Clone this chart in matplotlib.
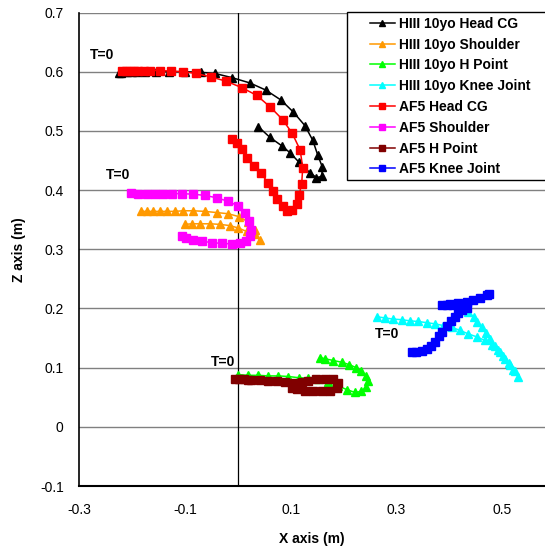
import matplotlib
matplotlib.use("Agg")
import matplotlib.pyplot as plt
from matplotlib.patches import Rectangle

plt.rcParams["font.family"] = ["Liberation Sans", "DejaVu Sans"]

# ---------- DATA ----------
hiii_head_x = [-0.225, -0.22, -0.215, -0.21, -0.20, -0.19, -0.175, -0.155, -0.13, -0.10, -0.07,
               -0.043, -0.011, 0.023, 0.053, 0.082, 0.105, 0.127, 0.142, 0.151, 0.160, 0.159,
               0.149, 0.137, 0.116, 0.099, 0.083, 0.061, 0.039]
hiii_head_z = [0.598, 0.598, 0.599, 0.599, 0.599, 0.600, 0.600, 0.600, 0.600, 0.600, 0.599,
               0.597, 0.590, 0.581, 0.569, 0.552, 0.532, 0.509, 0.484, 0.460, 0.439, 0.423,
               0.421, 0.429, 0.447, 0.463, 0.475, 0.489, 0.507]

hiii_shoulder_x = [-0.182, -0.172, -0.160, -0.147, -0.133, -0.119, -0.103, -0.084, -0.062, -0.040,
                   -0.018, 0.003, 0.020, 0.033, 0.042, 0.030, 0.017, 0.001, -0.015, -0.033,
                   -0.052, -0.071, -0.087, -0.100]
hiii_shoulder_z = [0.364, 0.364, 0.364, 0.364, 0.364, 0.364, 0.365, 0.365, 0.364, 0.362,
                   0.360, 0.355, 0.346, 0.333, 0.316, 0.325, 0.330, 0.336, 0.340, 0.342,
                   0.343, 0.343, 0.343, 0.342]

hiii_hpoint_x = [0.001, 0.020, 0.039, 0.058, 0.077, 0.096, 0.115, 0.133, 0.152, 0.171, 0.190,
                 0.206, 0.222, 0.234, 0.243, 0.246, 0.243, 0.234, 0.224, 0.211, 0.197, 0.181,
                 0.165, 0.156]
hiii_hpoint_z = [0.088, 0.087, 0.087, 0.086, 0.086, 0.085, 0.083, 0.082, 0.080, 0.076, 0.069,
                 0.063, 0.058, 0.060, 0.067, 0.077, 0.086, 0.094, 0.100, 0.105, 0.109, 0.112,
                 0.115, 0.117]

hiii_knee_x = [0.263, 0.278, 0.294, 0.310, 0.326, 0.341, 0.357, 0.373, 0.389, 0.405, 0.420,
               0.436, 0.452, 0.467, 0.480, 0.493, 0.502, 0.512, 0.521, 0.530, 0.524, 0.515,
               0.505, 0.496, 0.486, 0.477, 0.469, 0.461, 0.453, 0.446, 0.436]
hiii_knee_z = [0.186, 0.184, 0.182, 0.181, 0.179, 0.178, 0.176, 0.174, 0.171, 0.168, 0.163,
               0.157, 0.152, 0.146, 0.138, 0.129, 0.119, 0.108, 0.096, 0.085, 0.094, 0.105,
               0.115, 0.126, 0.137, 0.148, 0.159, 0.168, 0.177, 0.186, 0.194]

af5_head_x = [-0.218, -0.211, -0.204, -0.196, -0.188, -0.177, -0.166, -0.147, -0.127, -0.103,
              -0.079, -0.050, -0.022, 0.008, 0.036, 0.062, 0.085, 0.103, 0.118, 0.123, 0.121,
              0.116, 0.112, 0.102, 0.094, 0.085, 0.075, 0.066, 0.058, 0.044, 0.030, 0.017,
              0.008, -0.002, -0.010]
af5_head_z = [0.601, 0.601, 0.601, 0.601, 0.601, 0.602, 0.602, 0.602, 0.601, 0.600,
              0.597, 0.591, 0.584, 0.573, 0.560, 0.540, 0.519, 0.496, 0.468, 0.438, 0.411,
              0.391, 0.376, 0.366, 0.364, 0.373, 0.385, 0.398, 0.412, 0.428, 0.440, 0.455,
              0.469, 0.479, 0.487]

af5_shoulder_x = [-0.201, -0.188, -0.172, -0.156, -0.141, -0.125, -0.106, -0.084, -0.062, -0.040,
                  -0.018, 0.001, 0.014, 0.022, 0.025, 0.023, 0.016, 0.004, -0.011, -0.030,
                  -0.049, -0.068, -0.084, -0.098, -0.106]
af5_shoulder_z = [0.395, 0.394, 0.394, 0.394, 0.394, 0.394, 0.394, 0.393, 0.391, 0.387,
                  0.381, 0.373, 0.362, 0.347, 0.333, 0.322, 0.314, 0.310, 0.309, 0.310,
                  0.311, 0.314, 0.316, 0.319, 0.322]

af5_hpoint_x = [-0.005, 0.003, 0.011, 0.019, 0.026, 0.042, 0.058, 0.074, 0.089, 0.105, 0.121,
                0.133, 0.149, 0.165, 0.180, 0.189, 0.187, 0.174, 0.159, 0.143, 0.127, 0.112,
                0.102]
af5_hpoint_z = [0.080, 0.080, 0.080, 0.079, 0.079, 0.079, 0.078, 0.077, 0.076, 0.074, 0.075,
                0.077, 0.080, 0.081, 0.080, 0.074, 0.065, 0.061, 0.060, 0.060, 0.061, 0.064,
                0.066]

af5_knee_x = [0.329, 0.338, 0.348, 0.357, 0.365, 0.373, 0.381, 0.387, 0.395, 0.403, 0.410,
              0.417, 0.425, 0.433, 0.420, 0.408, 0.395, 0.387, 0.401, 0.417, 0.433, 0.445,
              0.458, 0.471, 0.476]
af5_knee_z = [0.126, 0.126, 0.128, 0.131, 0.137, 0.144, 0.153, 0.161, 0.170, 0.178, 0.186,
              0.192, 0.198, 0.201, 0.204, 0.205, 0.205, 0.206, 0.208, 0.209, 0.211, 0.215,
              0.218, 0.222, 0.224]

series = [
    ("HIII 10yo Head CG", hiii_head_x, hiii_head_z, "black", "^"),
    ("HIII 10yo Shoulder", hiii_shoulder_x, hiii_shoulder_z, "#ff9900", "^"),
    ("HIII 10yo H Point", hiii_hpoint_x, hiii_hpoint_z, "#00ff00", "^"),
    ("HIII 10yo Knee Joint", hiii_knee_x, hiii_knee_z, "#00ffff", "^"),
    ("AF5 Head CG", af5_head_x, af5_head_z, "#ff0000", "s"),
    ("AF5 Shoulder", af5_shoulder_x, af5_shoulder_z, "#ff00ff", "s"),
    ("AF5 H Point", af5_hpoint_x, af5_hpoint_z, "#800000", "s"),
    ("AF5 Knee Joint", af5_knee_x, af5_knee_z, "#0000ff", "s"),
]

t0_labels = [(-0.257, 0.628), (-0.226, 0.426), (-0.028, 0.110), (0.282, 0.156)]

x_ticks = [-0.3, -0.1, 0.1, 0.3, 0.5]
z_ticks = [-0.1, 0, 0.1, 0.2, 0.3, 0.4, 0.5, 0.6, 0.7]

# ---------- PLOT ----------
fig = plt.figure(figsize=(5.45, 5.5), dpi=100)
ax = fig.add_axes([79 / 545, 1 - 486 / 550, 1 - 79 / 545, (486 - 12.5) / 550])

for zv in z_ticks[1:]:
    ax.axhline(zv, color="#808080", lw=1.0, zorder=1)
ax.axvline(0, color="black", lw=0.9, zorder=1)

for label, xs, zs, col, mk in series:
    ax.plot(xs, zs, color=col, marker=mk, markersize=6 if mk == "^" else 5.5,
            lw=1.1, label=label, zorder=3)

for tx, tz in t0_labels:
    ax.text(tx, tz, "T=0", fontsize=10, fontweight="bold", ha="center", va="center", zorder=4)

ax.set_xlim(-0.3, 0.581)
ax.set_ylim(-0.1, 0.7)
ax.set_xticks(x_ticks)
ax.set_xticklabels(["-0.3", "-0.1", "0.1", "0.3", "0.5"])
ax.set_yticks(z_ticks)
ax.set_yticklabels(["-0.1", "0", "0.1", "0.2", "0.3", "0.4", "0.5", "0.6", "0.7"])
ax.tick_params(length=0, labelsize=10, pad=12)
ax.tick_params(axis="y", pad=11)

for side in ["top", "right"]:
    ax.spines[side].set_visible(False)
ax.spines["left"].set_linewidth(1.2)
ax.spines["bottom"].set_linewidth(1.5)

ax.set_xlabel("X axis (m)", fontsize=10, fontweight="bold", labelpad=11)
ax.set_ylabel("Z axis (m)", fontsize=10, fontweight="bold", labelpad=10)

# legend box drawn by hand so its padding matches the original
ax.add_patch(Rectangle((347 / 545, 1 - 180 / 550), 200 / 545, 168 / 550,
                       transform=fig.transFigure, facecolor="white",
                       edgecolor="black", lw=1.0, zorder=5, clip_on=False))
leg = ax.legend(loc="upper left", bbox_to_anchor=(360 / 545, 1 - 7 / 550),
                bbox_transform=fig.transFigure, frameon=False,
                prop={"weight": "bold", "size": 10}, handlelength=1.8,
                handletextpad=0.3, labelspacing=0.49, borderpad=0.2,
                markerscale=0.8)
leg.set_zorder(6)

fig.savefig("out.png", dpi=100)
